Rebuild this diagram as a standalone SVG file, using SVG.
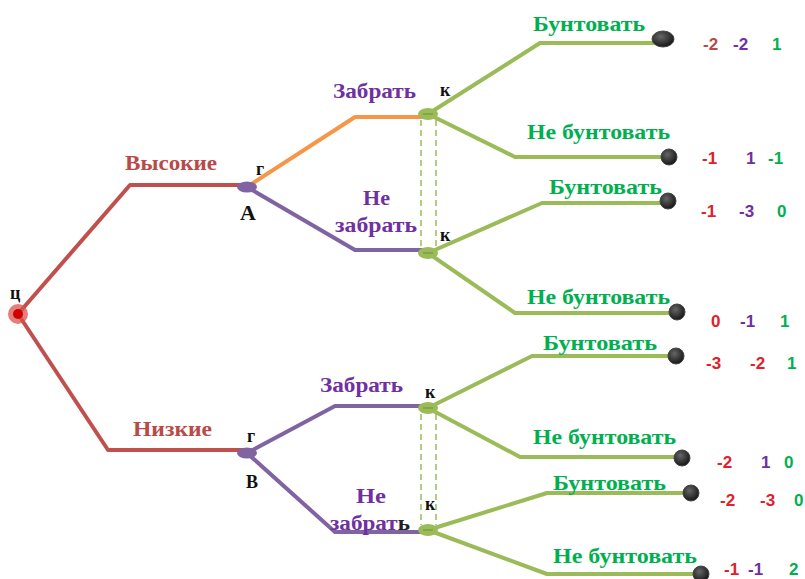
<svg xmlns="http://www.w3.org/2000/svg" width="805" height="579" viewBox="0 0 805 579">
  <style>
    .edge { fill: none; stroke-width: 4; stroke-linejoin: round; stroke-linecap: round; }
    .red { stroke: #c0504d; }
    .orange { stroke: #f79646; }
    .purple { stroke: #8064a2; }
    .green { stroke: #9bbb59; }
    .dash { fill: none; stroke: #9bbb59; stroke-width: 1.5; stroke-dasharray: 6 4; }
    .lbl { font-family: "Liberation Serif", "Times New Roman", serif; font-weight: bold; font-size: 22px; }
    .tag { font-family: "Liberation Serif", "Times New Roman", serif; font-weight: bold; font-size: 18px; fill: #111; }
    .t-red { fill: #b94a48; }
    .t-purple { fill: #7030a0; }
    .t-green { fill: #00b050; }
    .num { font-family: "Liberation Sans", Arial, sans-serif; font-weight: bold; font-size: 17px; }
    .n1 { fill: #e0202a; }
    .n2 { fill: #7030a0; }
    .n3 { fill: #00b050; }
    .leaf { stroke: #444; stroke-width: 1; }
  </style>
  <defs>
    <radialGradient id="leafGrad" cx="40%" cy="35%" r="70%">
      <stop offset="0" stop-color="#666"/>
      <stop offset="1" stop-color="#111"/>
    </radialGradient>
  </defs>
  <rect width="805" height="579" fill="#ffffff"/>

  <!-- connectors -->
  <g id="connectors">
    <!-- root branches -->
    <polyline class="edge red" points="18,314 130,185 247,185"/>
    <polyline class="edge red" points="18,314 108,450 247,450"/>
    <!-- upper player node -->
    <polyline class="edge orange" points="247,187 355,117 428,117"/>
    <polyline class="edge purple" points="247,187 355,250 428,250"/>
    <!-- lower player node -->
    <polyline class="edge purple" points="247,453 335,406 428,406"/>
    <polyline class="edge purple" points="247,453 335,532 428,532"/>
    <!-- K nodes -->
    <polyline class="edge green" points="428,114 540,43 663,43"/>
    <polyline class="edge green" points="428,114 515,157 668,157"/>
    <polyline class="edge green" points="428,253 542,203 666,203"/>
    <polyline class="edge green" points="428,253 515,313 676,313"/>
    <polyline class="edge green" points="428,408 532,356 676,356"/>
    <polyline class="edge green" points="428,408 520,457 682,457"/>
    <polyline class="edge green" points="428,530 547,493 690,493"/>
    <polyline class="edge green" points="428,530 547,574 700,574"/>
    <!-- information sets -->
    <line class="dash" x1="421" y1="120" x2="421" y2="248"/>
    <line class="dash" x1="436" y1="120" x2="436" y2="248"/>
    <line class="dash" x1="421" y1="414" x2="421" y2="525"/>
    <line class="dash" x1="436" y1="414" x2="436" y2="525"/>
  </g>

  <!-- root -->
  <g id="node-root">
    <circle cx="18" cy="314" r="10" fill="#d9534f" opacity="0.75"/>
    <circle cx="18" cy="314" r="5" fill="#d00000"/>
    <text class="tag" x="10" y="299">ц</text>
  </g>

  <!-- player nodes -->
  <g id="node-g-upper">
    <ellipse cx="247" cy="187" rx="10" ry="5.5" fill="#8064a2"/>
    <text class="tag" x="256" y="175">г</text>
    <text class="tag" x="240" y="220" style="font-size:22px">А</text>
  </g>
  <g id="node-g-lower">
    <ellipse cx="247" cy="453" rx="10" ry="5.5" fill="#8064a2"/>
    <text class="tag" x="247" y="442">г</text>
    <text class="tag" x="246" y="488">В</text>
  </g>

  <g id="node-k1">
    <ellipse cx="428" cy="114" rx="10" ry="6" fill="#9bbb59"/>
    <line x1="423" y1="114" x2="433" y2="114" stroke="#6f8f3a" stroke-width="1"/>
    <text class="tag" x="440" y="96">к</text>
  </g>
  <g id="node-k2">
    <ellipse cx="428" cy="253" rx="10" ry="6" fill="#9bbb59"/>
    <line x1="423" y1="253" x2="433" y2="253" stroke="#6f8f3a" stroke-width="1"/>
    <text class="tag" x="440" y="241">к</text>
  </g>
  <g id="node-k3">
    <ellipse cx="428" cy="408" rx="10" ry="6" fill="#9bbb59"/>
    <line x1="423" y1="408" x2="433" y2="408" stroke="#6f8f3a" stroke-width="1"/>
    <text class="tag" x="425" y="398">к</text>
  </g>
  <g id="node-k4">
    <ellipse cx="428" cy="530" rx="10" ry="6" fill="#9bbb59"/>
    <line x1="423" y1="530" x2="433" y2="530" stroke="#6f8f3a" stroke-width="1"/>
    <text class="tag" x="425" y="510">к</text>
  </g>

  <!-- branch labels -->
  <g id="labels">
    <text class="lbl t-red" x="125" y="170" textLength="92" lengthAdjust="spacingAndGlyphs">Высокие</text>
    <text class="lbl t-red" x="133" y="436" textLength="79" lengthAdjust="spacingAndGlyphs">Низкие</text>
    <text class="lbl t-purple" x="333" y="98" textLength="83" lengthAdjust="spacingAndGlyphs">Забрать</text>
    <text class="lbl t-purple" x="363" y="205" textLength="27" lengthAdjust="spacingAndGlyphs">Не</text>
    <text class="lbl t-purple" x="335" y="232" textLength="82" lengthAdjust="spacingAndGlyphs">забрать</text>
    <text class="lbl t-purple" x="320" y="392" textLength="83" lengthAdjust="spacingAndGlyphs">Забрать</text>
    <text class="lbl t-purple" x="356" y="503" style="font-size:20px" textLength="30" lengthAdjust="spacingAndGlyphs">Не</text>
    <text class="lbl t-purple" x="330" y="530" style="font-size:20px" textLength="80" lengthAdjust="spacingAndGlyphs">забрат<tspan fill="#222">ь</tspan></text>
    <text class="lbl t-green" x="533" y="31" textLength="112" lengthAdjust="spacingAndGlyphs">Бунтовать</text>
    <text class="lbl t-green" x="527" y="139" textLength="143" lengthAdjust="spacingAndGlyphs">Не бунтовать</text>
    <text class="lbl t-green" x="549" y="194" textLength="113" lengthAdjust="spacingAndGlyphs">Бунтовать</text>
    <text class="lbl t-green" x="527" y="304" textLength="143" lengthAdjust="spacingAndGlyphs">Не бунтовать</text>
    <text class="lbl t-green" x="543" y="350" textLength="114" lengthAdjust="spacingAndGlyphs">Бунтовать</text>
    <text class="lbl t-green" x="533" y="444" textLength="143" lengthAdjust="spacingAndGlyphs">Не бунтовать</text>
    <text class="lbl t-green" x="553" y="490" textLength="113" lengthAdjust="spacingAndGlyphs">Бунтовать</text>
    <text class="lbl t-green" x="553" y="563" textLength="144" lengthAdjust="spacingAndGlyphs">Не бунтовать</text>
  </g>

  <!-- terminal nodes -->
  <g id="leaf-1"><ellipse class="leaf" cx="663" cy="39" rx="11" ry="8" fill="url(#leafGrad)"/></g>
  <g id="leaf-2"><ellipse class="leaf" cx="669" cy="157" rx="8" ry="8" fill="url(#leafGrad)"/></g>
  <g id="leaf-3"><ellipse class="leaf" cx="668" cy="201" rx="8" ry="8" fill="url(#leafGrad)"/></g>
  <g id="leaf-4"><ellipse class="leaf" cx="677" cy="312" rx="8" ry="8" fill="url(#leafGrad)"/></g>
  <g id="leaf-5"><ellipse class="leaf" cx="676" cy="356" rx="8" ry="8" fill="url(#leafGrad)"/></g>
  <g id="leaf-6"><ellipse class="leaf" cx="682" cy="458" rx="8" ry="8" fill="url(#leafGrad)"/></g>
  <g id="leaf-7"><ellipse class="leaf" cx="691" cy="493" rx="8" ry="8" fill="url(#leafGrad)"/></g>
  <g id="leaf-8"><ellipse class="leaf" cx="701" cy="574" rx="8" ry="8" fill="url(#leafGrad)"/></g>

  <!-- payoffs -->
  <g id="payoffs" class="num">
    <text x="703" y="50"><tspan fill="#b94a48">-2</tspan><tspan class="n2" x="733">-2</tspan><tspan class="n3" x="772">1</tspan></text>
    <text x="702" y="164"><tspan class="n1">-1</tspan><tspan class="n2" x="746">1</tspan><tspan class="n3" x="768">-1</tspan></text>
    <text x="701" y="217"><tspan class="n1">-1</tspan><tspan class="n2" x="739">-3</tspan><tspan class="n3" x="777">0</tspan></text>
    <text x="711" y="327"><tspan class="n1">0</tspan><tspan class="n2" x="740">-1</tspan><tspan class="n3" x="780">1</tspan></text>
    <text x="706" y="369"><tspan class="n1">-3</tspan><tspan class="n1" x="750">-2</tspan><tspan class="n3" x="787">1</tspan></text>
    <text x="717" y="468"><tspan class="n1">-2</tspan><tspan class="n2" x="761">1</tspan><tspan class="n3" x="784">0</tspan></text>
    <text x="720" y="506"><tspan class="n1">-2</tspan><tspan class="n1" x="760">-3</tspan><tspan class="n3" x="794">0</tspan></text>
    <text x="724" y="575"><tspan class="n1">-1</tspan><tspan class="n2" x="748">-1</tspan><tspan class="n3" x="789">2</tspan></text>
  </g>
</svg>
